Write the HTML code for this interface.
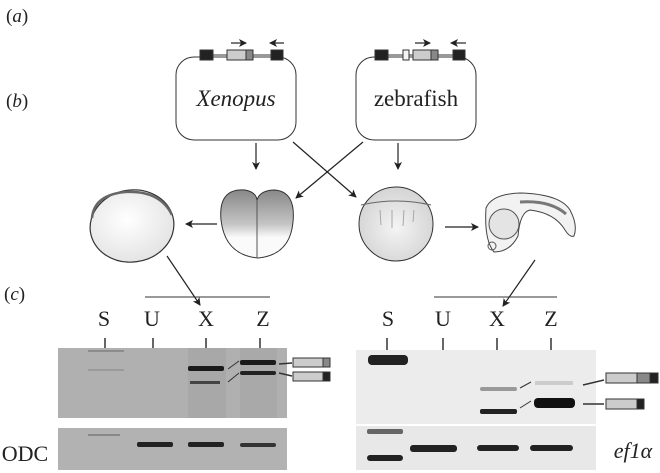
<!DOCTYPE html>
<html><head><style>
body{margin:0;background:#fff;}
svg{display:block;font-family:"Liberation Serif",serif;}
</style></head><body>
<svg width="660" height="473" viewBox="0 0 660 473">
<defs>
<marker id="a" markerWidth="8" markerHeight="8" refX="7" refY="4" orient="auto" markerUnits="userSpaceOnUse"><path d="M0,0 L8,4 L0,8 L2,4z" fill="#222"/></marker>
<radialGradient id="egg" cx="45%" cy="40%" r="60%"><stop offset="0" stop-color="#fff"/><stop offset="1" stop-color="#e4e4e4"/></radialGradient>
<linearGradient id="clv" x1="0" y1="0" x2="0" y2="1"><stop offset="0" stop-color="#888"/><stop offset="0.5" stop-color="#c4c4c4"/><stop offset="0.7" stop-color="#fafafa"/></linearGradient>
<radialGradient id="zf" cx="50%" cy="55%" r="55%"><stop offset="0" stop-color="#f4f4f4"/><stop offset="1" stop-color="#d4d4d4"/></radialGradient>
</defs>
<g font-size="19" fill="#222">
<text x="6" y="22">(<tspan font-style="italic">a</tspan>)</text>
<text x="6" y="107">(<tspan font-style="italic">b</tspan>)</text>
<text x="4" y="300">(<tspan font-style="italic">c</tspan>)</text>
</g>
<rect x="176" y="57" width="120" height="83" rx="18" fill="#fff" stroke="#333" stroke-width="1"/>
<rect x="356" y="57" width="120" height="83" rx="18" fill="#fff" stroke="#333" stroke-width="1"/>
<text x="236" y="106" font-size="23" font-style="italic" text-anchor="middle" fill="#222">Xenopus</text>
<text x="416" y="106" font-size="23" text-anchor="middle" fill="#222">zebrafish</text>
<g stroke="#333" stroke-width="1">
<line x1="206" y1="55" x2="280" y2="55"/>
<rect x="200" y="50" width="13" height="10" fill="#222"/>
<rect x="227" y="50" width="20" height="10" fill="#ccc"/>
<rect x="246" y="50" width="7" height="10" fill="#888"/>
<rect x="271" y="50" width="12" height="10" fill="#222"/>
<line x1="380" y1="55" x2="460" y2="55"/>
<rect x="375" y="50" width="13" height="10" fill="#222"/>
<rect x="403" y="50" width="6" height="10" fill="#f4f4f4"/>
<rect x="413" y="50" width="19" height="10" fill="#ccc"/>
<rect x="431" y="50" width="7" height="10" fill="#888"/>
<rect x="453" y="50" width="12" height="10" fill="#222"/>
</g>
<g stroke="#222" stroke-width="1.2" fill="none" marker-end="url(#a)">
<line x1="231" y1="43" x2="246" y2="43"/>
<line x1="284" y1="43" x2="270" y2="43"/>
<line x1="415" y1="43" x2="430" y2="43"/>
<line x1="466" y1="43" x2="451" y2="43"/>
<line x1="256" y1="143" x2="256" y2="169"/>
<line x1="398" y1="143" x2="398" y2="169"/>
<line x1="293" y1="142" x2="356" y2="197"/>
<line x1="363" y1="142" x2="296" y2="198"/>
<line x1="217" y1="224" x2="186" y2="224"/>
<line x1="445" y1="227" x2="478" y2="227"/>
<line x1="167" y1="256" x2="200" y2="305"/>
<line x1="535" y1="260" x2="503" y2="306"/>
</g>
<ellipse cx="132" cy="226" rx="42" ry="36" fill="url(#egg)" stroke="#333" stroke-width="1.2" transform="rotate(-8 132 226)"/>
<path d="M92,218 Q94,195 125,192 Q160,190 172,215" stroke="#666" fill="none" stroke-width="2.5"/>
<path d="M221,220 Q218,188 245,190 Q256,192 257,200 Q260,190 275,190 Q296,192 293,222 Q290,255 258,258 Q225,255 221,220z" fill="url(#clv)" stroke="#333"/>
<line x1="257" y1="200" x2="257" y2="258" stroke="#555"/>
<circle cx="396" cy="224" r="37" fill="url(#zf)" stroke="#333"/>
<path d="M361,205 Q396,197 431,205" stroke="#666" fill="none"/>
<g stroke="#999" stroke-width="0.8"><line x1="380" y1="210" x2="381" y2="225"/><line x1="392" y1="210" x2="392" y2="228"/><line x1="404" y1="210" x2="403" y2="226"/><line x1="414" y1="210" x2="413" y2="222"/></g>
<path d="M486,208 Q492,194 520,193 Q560,194 570,210 Q578,225 574,236 Q570,238 565,230 Q555,213 530,210 Q520,212 518,236 Q510,252 494,252 Q484,240 486,208z" fill="#f2f2f2" stroke="#444"/>
<path d="M520,202 Q550,200 566,214" stroke="#777" stroke-width="3" fill="none"/>
<circle cx="504" cy="224" r="15" fill="#e4e4e4" stroke="#555"/>
<circle cx="492" cy="246" r="4" fill="none" stroke="#555"/>
<line x1="145" y1="297" x2="270" y2="297" stroke="#333"/>
<g font-size="22" fill="#222" text-anchor="middle">
<text x="104" y="326">S</text><text x="152" y="326">U</text><text x="206" y="326">X</text><text x="263" y="326">Z</text>
<text x="388" y="326">S</text><text x="443" y="326">U</text><text x="497" y="326">X</text><text x="551" y="326">Z</text>
<text x="25" y="461">ODC</text>
<text x="633" y="458" font-style="italic">ef1α</text>
</g>
<g stroke="#333" stroke-width="1.5">
<line x1="105" y1="338" x2="105" y2="350"/><line x1="153" y1="338" x2="153" y2="350"/><line x1="206" y1="338" x2="206" y2="350"/><line x1="260" y1="338" x2="260" y2="350"/>
<line x1="387" y1="338" x2="387" y2="350"/><line x1="443" y1="338" x2="443" y2="350"/><line x1="497" y1="338" x2="497" y2="350"/><line x1="551" y1="338" x2="551" y2="350"/>
</g>
<rect x="58" y="348" width="229" height="70" fill="#b0b0b0"/>
<rect x="188" y="348" width="38" height="70" fill="#a8a8a8"/>
<rect x="240" y="348" width="37" height="70" fill="#a9a9a9"/>
<rect x="88" y="350" width="36" height="2" fill="#8c8c8c"/>
<rect x="88" y="369" width="36" height="2" fill="#9a9a9a"/>
<rect x="188" y="366" width="36" height="5" rx="2" fill="#1a1a1a"/>
<rect x="190" y="381" width="30" height="3" fill="#444"/>
<rect x="240" y="360" width="36" height="5" rx="2" fill="#1a1a1a"/>
<rect x="240" y="371" width="36" height="4" rx="2" fill="#222"/>
<rect x="58" y="428" width="229" height="42" fill="#b2b2b2"/>
<rect x="88" y="434" width="32" height="2" fill="#888"/>
<rect x="137" y="442" width="36" height="5" rx="2" fill="#222"/>
<rect x="188" y="442" width="36" height="5" rx="2" fill="#222"/>
<rect x="240" y="443" width="36" height="4" rx="2" fill="#333"/>
<g stroke="#333" stroke-width="1">
<line x1="228" y1="369" x2="239" y2="361"/><line x1="228" y1="382" x2="239" y2="373"/>
<line x1="279" y1="364" x2="292" y2="363" stroke-width="1.5"/><line x1="279" y1="373" x2="292" y2="376" stroke-width="1.5"/>
<rect x="293" y="358" width="30" height="9" fill="#ccc"/><rect x="323" y="358" width="7" height="9" fill="#888"/>
<rect x="293" y="372" width="30" height="9" fill="#ccc"/><rect x="323" y="372" width="7" height="9" fill="#222"/>
</g>
<line x1="434" y1="297" x2="557" y2="297" stroke="#333"/>
<rect x="356" y="350" width="240" height="74" fill="#ececec"/>
<rect x="368" y="355" width="40" height="10" rx="4" fill="#222"/>
<rect x="480" y="387" width="37" height="4" rx="2" fill="#999"/>
<rect x="480" y="409" width="37" height="5" rx="2" fill="#222"/>
<rect x="535" y="381" width="38" height="4" fill="#ccc"/>
<rect x="534" y="398" width="41" height="10" rx="4" fill="#111"/>
<rect x="356" y="426" width="240" height="44" fill="#e8e8e8"/>
<rect x="367" y="429" width="36" height="5" rx="2" fill="#666"/>
<rect x="367" y="455" width="36" height="6" rx="3" fill="#222"/>
<rect x="410" y="445" width="47" height="7" rx="3" fill="#222"/>
<rect x="477" y="445" width="42" height="6" rx="3" fill="#222"/>
<rect x="530" y="445" width="43" height="6" rx="3" fill="#222"/>
<g stroke="#333" stroke-width="1">
<line x1="520" y1="388" x2="531" y2="382"/><line x1="520" y1="408" x2="531" y2="401"/>
<line x1="583" y1="385" x2="604" y2="380" stroke-width="1.5"/><line x1="583" y1="404" x2="604" y2="404" stroke-width="1.5"/>
<rect x="606" y="373" width="31" height="10" fill="#ccc"/><rect x="637" y="373" width="13" height="10" fill="#888"/><rect x="650" y="373" width="8" height="10" fill="#222"/>
<rect x="606" y="399" width="31" height="10" fill="#ccc"/><rect x="637" y="399" width="7" height="10" fill="#222"/>
</g>
</svg>
</body></html>
